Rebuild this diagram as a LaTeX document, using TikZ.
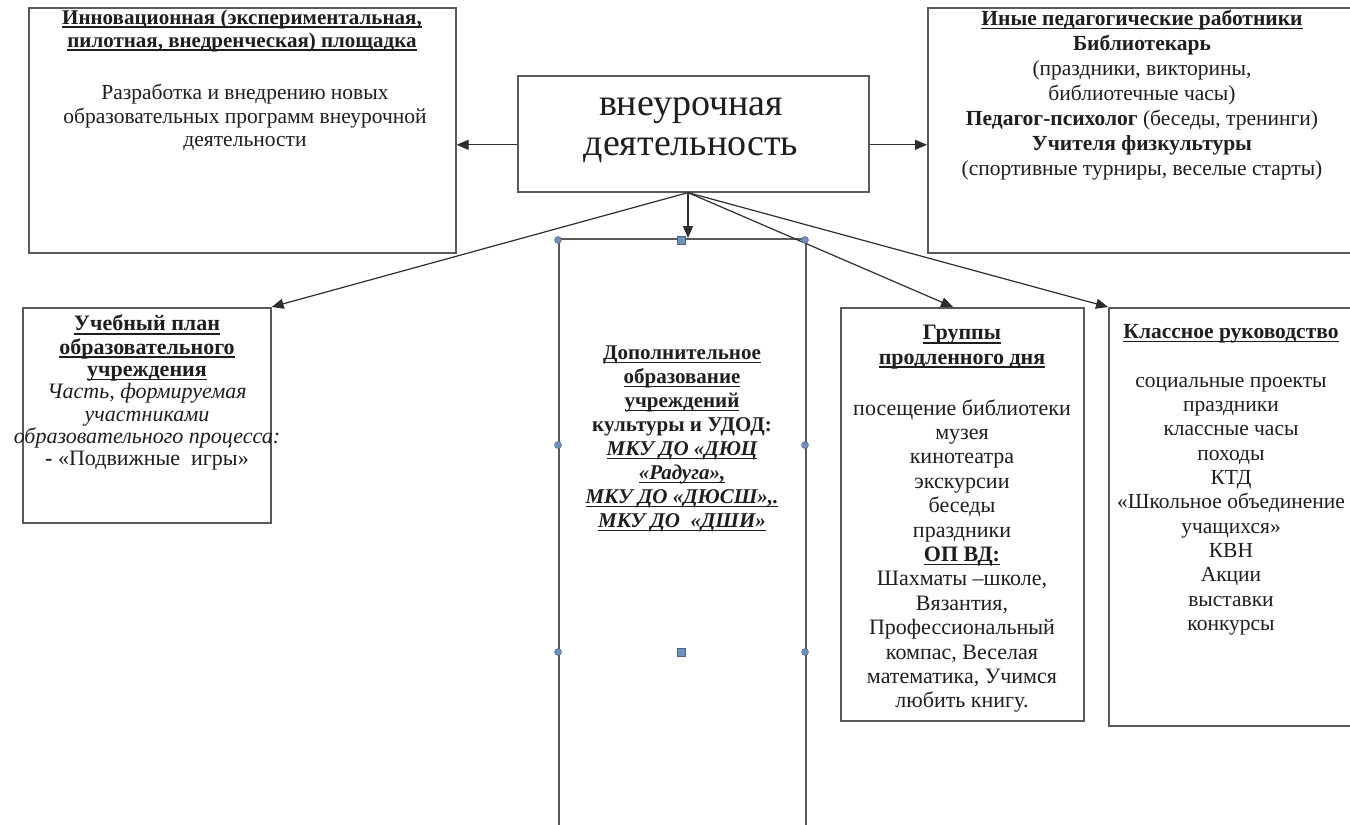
\documentclass[tikz,border=0pt]{standalone}
\usepackage{fontspec}
\setmainfont{Liberation Serif}
\usetikzlibrary{arrows.meta,calc}
\definecolor{boxgray}{HTML}{5A5A5A}
\definecolor{linegray}{HTML}{2E2E2E}
\definecolor{txtcol}{HTML}{1E1E1E}
\definecolor{handleblue}{HTML}{6F8FBF}
\newsavebox{\ulbox}
\newcommand{\ulx}[1]{\sbox{\ulbox}{#1}\usebox{\ulbox}\llap{\rule[-0.17em]{\wd\ulbox}{0.075em}}}
\begin{document}
\begin{tikzpicture}[x=1pt,y=-1pt,
  box/.style={draw=boxgray,line width=1.6pt,rectangle,inner sep=0pt,anchor=north west},
  arr/.style={draw=linegray,line width=1.2pt,-{Triangle[length=12pt,width=10pt]}},
  txt/.style={align=center,anchor=north,inner sep=0pt,text=txtcol},
  hcirc/.style={circle,fill=handleblue,draw=handleblue!70!black,line width=0.4pt,minimum size=7pt,inner sep=0pt},
  hsq/.style={rectangle,fill=handleblue,draw=handleblue!70!black,line width=0.4pt,minimum size=8pt,inner sep=0pt}
]
\useasboundingbox (0,0) rectangle (1350,825);
\clip (0,0) rectangle (1350,825);
\fill[white] (0,0) rectangle (1350,825);

% boxes
\node[box,minimum width=427pt,minimum height=245pt] (boxA) at (28,7) {};
\node[box,minimum width=351pt,minimum height=116pt] (center) at (517,75) {};
\node[box,minimum width=425pt,minimum height=245pt] (boxB) at (927,7) {};
\node[box,minimum width=248pt,minimum height=215pt] (boxC) at (22,307) {};
\node[box,minimum width=247pt,minimum height=620pt] (boxD) at (558,238) {};
\node[box,minimum width=243pt,minimum height=413pt] (boxE) at (840,307) {};
\node[box,minimum width=245pt,minimum height=418pt] (boxF) at (1108,307) {};

% texts
\node[txt,font=\fontsize{21}{23}\selectfont] (tA1) at (242,8) {\strut\bfseries\ulx{Инновационная (экспериментальная,}\\ \bfseries\ulx{пилотная, внедренческая) площадка}};
\node[txt,font=\fontsize{21.5}{23.5}\selectfont] (tA2) at (245,83) {\strut Разработка и внедрению новых\\ образовательных программ внеурочной\\ деятельности};

\node[txt,font=\fontsize{38}{40}\selectfont] (tC) at (691,87) {\strut внеурочная\\ деятельность};

\node[txt,font=\fontsize{21.5}{25}\selectfont] (tB) at (1142,8) {\strut\bfseries\ulx{Иные педагогические работники}\\
 \bfseries Библиотекарь\\
 (праздники, викторины,\\
 библиотечные часы)\\
 \textbf{Педагог-психолог} (беседы, тренинги)\\
 \bfseries Учителя физкультуры\\
 (спортивные турниры, веселые старты)};

\node[txt,font=\fontsize{22}{22.3}\selectfont] (tCp) at (147,315) {\strut\bfseries\ulx{Учебный план}\\
 \bfseries\ulx{образовательного}\\
 \bfseries\ulx{учреждения}\\
 \itshape Часть, формируемая\\
 \itshape участниками\\
 \itshape образовательного процесса:\\
 \textbf{-} «Подвижные\ \ игры»};

\node[txt,font=\fontsize{21}{24}\selectfont] (tD) at (682,342.5) {\strut\bfseries\ulx{Дополнительное}\\
 \bfseries\ulx{образование}\\
 \bfseries\ulx{учреждений}\\
 \bfseries культуры и УДОД:\\
 \bfseries\itshape\ulx{МКУ ДО «ДЮЦ}\\
 \bfseries\itshape\ulx{«Радуга»,}\\
 \bfseries\itshape\ulx{МКУ ДО «ДЮСШ»,.}\\
 \bfseries\itshape\ulx{МКУ ДО\ \ «ДШИ»}};

\node[txt,font=\fontsize{22}{24.4}\selectfont] (tE) at (962,322.5) {\strut\bfseries\ulx{Группы}\\
 \bfseries\ulx{продленного дня}\\[26.6pt]
 посещение библиотеки\\
 музея\\
 кинотеатра\\
 экскурсии\\
 беседы\\
 праздники\\
 \bfseries\ulx{ОП ВД:}\\
 Шахматы –школе,\\
 Вязантия,\\
 Профессиональный\\
 компас, Веселая\\
 математика, Учимся\\
 любить книгу.};

\node[txt,font=\fontsize{21.5}{24.3}\selectfont] (tF) at (1231,321.5) {\strut\bfseries\ulx{Классное руководство}\\[24.3pt]
 социальные проекты\\
 праздники\\
 классные часы\\
 походы\\
 КТД\\
 «Школьное объединение\\
 учащихся»\\
 КВН\\
 Акции\\
 выставки\\
 конкурсы};

% connectors
\coordinate (hub) at ($(center.south west)+(171,0)$);
\coordinate (cl) at ($(center.west)+(0,11)$);
\coordinate (cr) at ($(center.east)+(0,11)$);
\coordinate (eTop) at ($(boxE.north west)+(113,0)$);
\draw[arr] (cl) -- (cl -| boxA.east);
\draw[arr] (cr) -- (cr -| boxB.west);
\draw[arr] (hub) -- (hub |- boxD.north);
\draw[arr] (hub) -- (boxC.north east);
\draw[arr] (hub) -- (eTop);
\draw[arr] (hub) -- (boxF.north west);

% selection handles of the text box
\node[hcirc] (h1) at (558,240) {};
\node[hsq] (h2) at (681,240) {};
\node[hcirc] (h3) at (805,240) {};
\node[hcirc] (h4) at (558,445) {};
\node[hcirc] (h5) at (805,445) {};
\node[hcirc] (h6) at (558,652) {};
\node[hsq] (h7) at (681,652) {};
\node[hcirc] (h8) at (805,652) {};
\end{tikzpicture}
\end{document}
